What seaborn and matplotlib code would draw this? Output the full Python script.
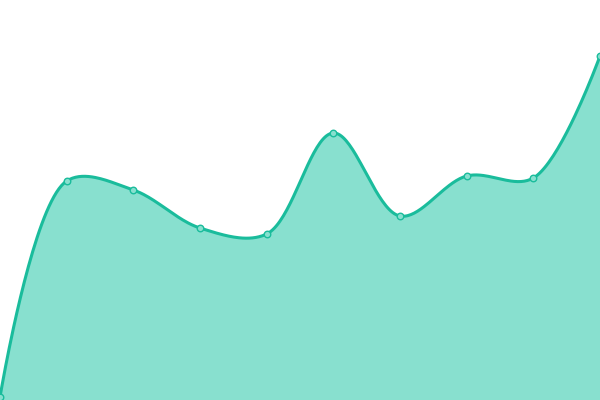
import numpy as np
import matplotlib
matplotlib.use("Agg")
import matplotlib.pyplot as plt
import seaborn as sns

# values (0 at bottom edge, 400 at top edge)
x_idx = [0, 1, 2, 3, 4, 5, 6, 7, 8, 9]
values = [3, 219, 210, 172, 166, 267, 184, 224, 222, 344]

line_color = '#1abc9c'
fill_color = '#88e0cf'

W, H = 600, 400


def catmull_rom(xs, ys, alpha=0.5, n=40):
    """Centripetal Catmull-Rom through the points, done in pixel space."""
    sx = W / (len(xs) - 1)
    P = [(x * sx, y) for x, y in zip(xs, ys)]
    P = [P[0]] + P + [P[-1]]
    t = np.linspace(0, 1, n, endpoint=False)
    out = []

    def d(a, b):
        return (np.hypot(a[0] - b[0], a[1] - b[1])) ** alpha

    for i in range(1, len(P) - 2):
        p0, p1, p2, p3 = P[i - 1], P[i], P[i + 1], P[i + 2]
        l01, l12, l23 = d(p0, p1), d(p1, p2), d(p2, p3)
        c1 = np.array(p1, float)
        c2 = np.array(p2, float)
        if l01 > 1e-9:
            a = 2 * l01 ** 2 + 3 * l01 * l12 + l12 ** 2
            m = 3 * l01 * (l01 + l12)
            c1 = (np.array(p1) * a - np.array(p0) * l12 ** 2
                  + np.array(p2) * l01 ** 2) / m
        if l23 > 1e-9:
            b = 2 * l23 ** 2 + 3 * l23 * l12 + l12 ** 2
            m = 3 * l23 * (l23 + l12)
            c2 = (np.array(p2) * b + np.array(p1) * l23 ** 2
                  - np.array(p3) * l12 ** 2) / m
        a0 = np.array(p1, float)
        for tt in t:
            q = ((1 - tt) ** 3 * a0 + 3 * (1 - tt) ** 2 * tt * c1
                 + 3 * (1 - tt) * tt ** 2 * c2 + tt ** 3 * np.array(p2))
            out.append(q)
    out.append(np.array(P[-1], float))
    out = np.array(out)
    return out[:, 0] / sx, out[:, 1]


sns.set_theme(style='white')
fig = plt.figure(figsize=(6, 4), dpi=100)
ax = fig.add_axes([0, 0, 1, 1])

sx, sy = catmull_rom(x_idx, values)
ax.fill_between(sx, sy, 0, color=fill_color, linewidth=0, zorder=1)
sns.lineplot(x=sx, y=sy, color=line_color, linewidth=2.2, ax=ax, zorder=2,
             sort=False)
sns.scatterplot(x=x_idx, y=values, s=22, color=fill_color,
                edgecolor=line_color, linewidth=1.0, ax=ax, zorder=3,
                clip_on=False)

ax.set_xlim(0, 9)
ax.set_ylim(0, 400)
ax.axis('off')

fig.savefig('out.png', dpi=100)
